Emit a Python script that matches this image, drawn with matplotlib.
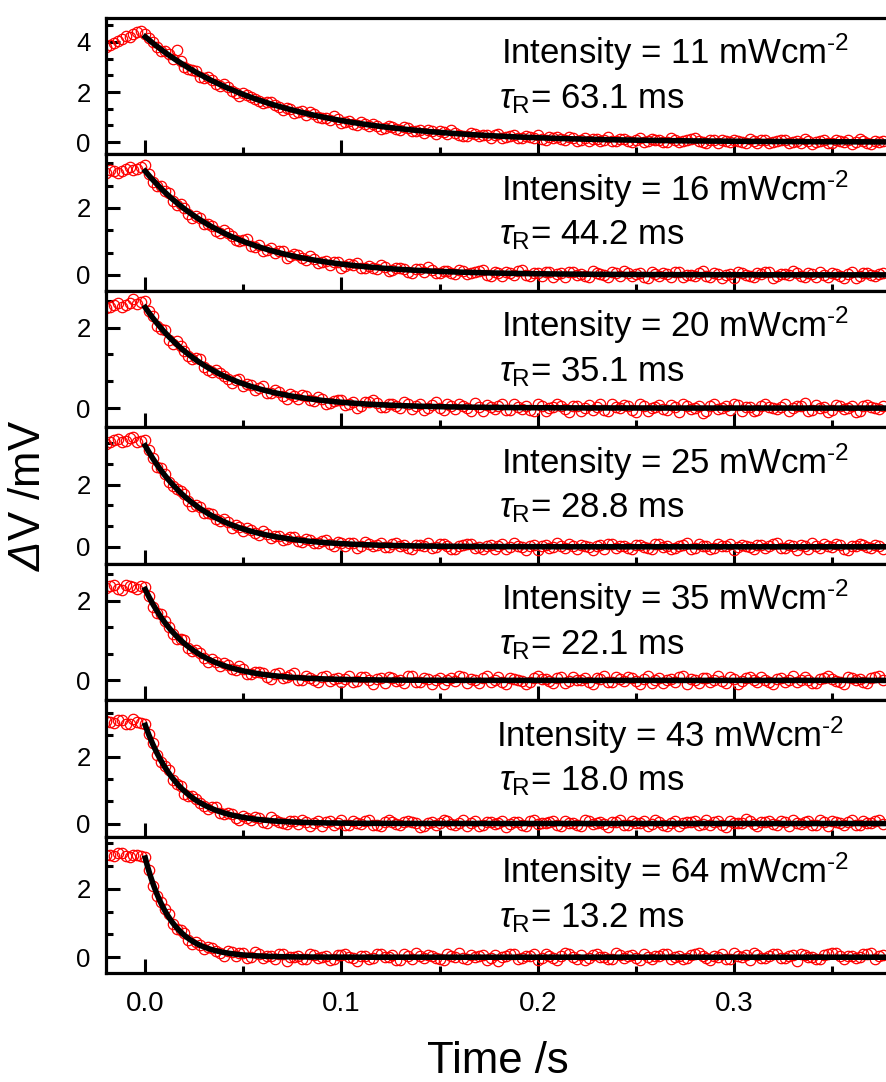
import numpy as np
import matplotlib
matplotlib.use('Agg')
import matplotlib.pyplot as plt
from matplotlib.ticker import MultipleLocator, AutoMinorLocator

plt.rcParams['font.family'] = ['Liberation Sans', 'DejaVu Sans']
plt.rcParams['mathtext.fontset'] = 'custom'
plt.rcParams['mathtext.rm'] = 'Liberation Sans'
plt.rcParams['mathtext.it'] = 'Liberation Sans:italic'
plt.rcParams['mathtext.sf'] = 'Liberation Sans:italic'   # used for the italic Delta
plt.rcParams['mathtext.bf'] = 'Liberation Sans:bold'

''' DATA '''
# sampling grids of the photovoltage transients (s): points at -20, -16, ... ms
# and the interleaved points at -18, -14, ... ms
time_a = np.linspace(-0.02, 0.376, 100)
time_b = np.linspace(-0.018, 0.374, 99)

intensity = [11, 16, 20, 25, 35, 43, 64]             # mW cm-2
tau_ms = [63.1, 44.2, 35.1, 28.8, 22.1, 18.0, 13.2]  # fitted recombination time
fit_amp = [4.2, 3.1, 2.5, 3.25, 2.28, 2.95, 2.9]     # fitted amplitude at t = 0 (mV)

dv_11 = [3.78, 3.95, 4.12, 4.20, 4.38, 4.30,
         3.99, 3.62, 3.50, 3.66, 3.00, 2.89, 2.60, 2.60, 2.33, 2.32,
         2.06, 1.84, 1.90, 1.74, 1.55, 1.62, 1.41, 1.38, 1.17, 1.23,
         1.19, 0.99, 0.97, 1.03, 0.78, 0.84, 0.70, 0.73, 0.74, 0.52,
         0.63, 0.52, 0.61, 0.43, 0.47, 0.49, 0.31, 0.41, 0.47, 0.29,
         0.24, 0.34, 0.30, 0.16, 0.32, 0.21, 0.27, 0.15, 0.22, 0.28,
         0.10, 0.17, 0.11, 0.22, 0.04, 0.17, 0.13, 0.05, 0.21, 0.06,
         0.13, 0.00, 0.15, 0.06, 0.10, 0.00, 0.15, 0.02, 0.07, 0.17,
         0.00, 0.10, -0.04, 0.05, 0.08, 0.00, 0.13, -0.04, 0.08, 0.01,
         0.10, -0.04, 0.05, 0.11, -0.07, 0.04, -0.02, 0.08, 0.02, -0.06,
         0.13, -0.04, 0.04, 0.05]
dv_11_b = [3.86, 4.05, 4.25, 4.30, 4.42,
           4.15, 3.78, 3.63, 3.31, 3.22, 2.90, 2.84, 2.55, 2.47, 2.24,
           2.20, 1.95, 1.96, 1.80, 1.63, 1.60, 1.50, 1.30, 1.34, 1.19,
           1.10, 1.13, 0.96, 0.90, 0.93, 0.80, 0.74, 0.80, 0.64, 0.66,
           0.58, 0.60, 0.47, 0.55, 0.45, 0.38, 0.43, 0.44, 0.33, 0.36,
           0.26, 0.35, 0.23, 0.29, 0.27, 0.18, 0.25, 0.15, 0.24, 0.16,
           0.12, 0.19, 0.20, 0.08, 0.15, 0.10, 0.04, 0.14, 0.09, 0.03,
           0.12, 0.05, 0.10, 0.02, 0.11, 0.08, -0.01, 0.09, 0.04, 0.12,
           0.03, -0.03, 0.07, 0.10, 0.01, 0.06, -0.02, 0.05, 0.09, -0.03,
           0.04, 0.07, 0.00, -0.05, 0.06, 0.02, 0.09, -0.03, 0.03, 0.10,
           -0.01, 0.05, -0.06, 0.02]

dv_16 = [3.06, 3.12, 3.10, 3.22, 3.18, 3.28,
         2.79, 2.66, 2.46, 2.10, 2.00, 1.71, 1.70, 1.51, 1.30, 1.33,
         1.17, 1.00, 1.07, 0.84, 0.72, 0.79, 0.71, 0.51, 0.63, 0.50,
         0.55, 0.36, 0.41, 0.40, 0.21, 0.33, 0.35, 0.21, 0.21, 0.31,
         0.12, 0.21, 0.17, 0.05, 0.19, 0.24, 0.06, 0.12, 0.06, 0.16,
         0.02, 0.10, 0.15, -0.02, 0.06, 0.10, 0.00, 0.15, -0.03, 0.05,
         0.09, -0.07, 0.06, 0.09, 0.00, -0.03, 0.11, 0.03, -0.07, 0.05,
         0.11, -0.02, 0.07, -0.08, 0.03, 0.06, -0.06, 0.09, 0.00, -0.04,
         0.12, -0.06, 0.03, 0.01, -0.08, 0.07, -0.02, 0.05, 0.09, -0.10,
         0.04, -0.01, 0.06, -0.07, 0.02, 0.10, -0.05, 0.03, -0.09, 0.08,
         -0.03, 0.06, -0.02, 0.05]
dv_16_b = [3.15, 3.05, 3.18, 3.14, 3.24,
           3.02, 2.66, 2.52, 2.20, 2.12, 1.83, 1.76, 1.53, 1.47, 1.25,
           1.24, 1.05, 1.04, 0.87, 0.90, 0.74, 0.65, 0.70, 0.55, 0.60,
           0.44, 0.47, 0.38, 0.31, 0.38, 0.27, 0.31, 0.20, 0.28, 0.17,
           0.23, 0.14, 0.20, 0.10, 0.18, 0.09, 0.15, 0.05, 0.13, 0.03,
           0.11, 0.05, 0.13, 0.01, 0.08, -0.02, 0.07, 0.12, 0.00, 0.06,
           -0.04, 0.08, 0.02, -0.05, 0.10, 0.04, -0.06, 0.07, -0.01, 0.09,
           -0.04, 0.06, 0.02, -0.07, 0.08, -0.02, 0.04, 0.10, -0.05, 0.01,
           0.07, -0.03, 0.05, -0.08, 0.03, 0.09, -0.01, -0.06, 0.04, 0.08,
           -0.03, 0.02, 0.11, -0.04, 0.05, -0.07, 0.01, 0.06, -0.02, 0.03,
           -0.09, 0.07, 0.00, 0.04]

dv_20 = [2.48, 2.56, 2.50, 2.62, 2.58, 2.66,
         2.29, 1.96, 1.69, 1.67, 1.43, 1.21, 1.23, 0.94, 0.94, 0.79,
         0.63, 0.73, 0.60, 0.45, 0.56, 0.38, 0.41, 0.22, 0.30, 0.33,
         0.19, 0.28, 0.09, 0.18, 0.21, 0.10, 0.01, 0.15, 0.19, 0.02,
         0.10, 0.06, 0.15, -0.02, 0.09, -0.01, 0.16, -0.05, 0.05, 0.09,
         -0.01, 0.12, -0.07, 0.02, 0.06, -0.05, 0.09, -0.02, -0.04, 0.11,
         -0.07, 0.03, 0.06, -0.10, 0.04, 0.01, -0.05, 0.09, -0.08, 0.02,
         0.07, -0.04, 0.10, -0.06, 0.03, -0.02, 0.08, -0.09, 0.05, 0.01,
         -0.11, 0.06, -0.03, 0.04, 0.09, -0.07, 0.02, -0.05, 0.10, -0.01,
         0.03, -0.08, 0.06, 0.12, -0.04, 0.01, -0.09, 0.07, -0.02, 0.05,
         -0.06, 0.08, -0.01, 0.04]
dv_20_b = [2.52, 2.60, 2.55, 2.70, 2.63,
           2.42, 2.05, 1.93, 1.60, 1.55, 1.30, 1.25, 1.02, 0.90, 0.88,
           0.72, 0.70, 0.55, 0.58, 0.50, 0.37, 0.44, 0.31, 0.35, 0.22,
           0.29, 0.17, 0.23, 0.13, 0.20, 0.08, 0.16, 0.05, 0.14, 0.12,
           0.02, 0.11, 0.00, 0.09, 0.04, -0.04, 0.08, 0.01, 0.10, -0.03,
           0.05, -0.06, 0.03, 0.08, -0.02, 0.11, -0.05, 0.02, 0.06, -0.08,
           0.04, 0.00, 0.09, -0.03, 0.05, -0.07, 0.08, 0.02, -0.04, 0.10,
           -0.01, 0.04, -0.09, 0.06, 0.01, 0.07, -0.05, 0.03, 0.11, -0.02,
           0.05, -0.06, 0.09, 0.00, -0.04, 0.07, 0.02, -0.08, 0.06, 0.03,
           -0.03, 0.10, -0.01, 0.04, -0.07, 0.08, 0.02, -0.05, 0.06, 0.01,
           -0.09, 0.05, 0.03, -0.02]

dv_25 = [3.30, 3.42, 3.38, 3.50, 3.36, 3.44,
         2.86, 2.55, 2.08, 1.85, 1.69, 1.31, 1.27, 1.08, 0.88, 0.89,
         0.62, 0.63, 0.59, 0.43, 0.52, 0.28, 0.34, 0.26, 0.32, 0.14,
         0.23, 0.12, 0.23, 0.04, 0.11, 0.13, -0.03, 0.14, 0.04, 0.11,
         -0.01, 0.12, 0.05, -0.06, 0.06, 0.12, -0.02, 0.08, -0.06, 0.02,
         0.09, -0.03, -0.08, 0.05, 0.02, -0.06, 0.11, -0.01, 0.04, -0.10,
         0.07, -0.02, 0.03, 0.08, -0.06, 0.01, -0.09, 0.05, 0.10, -0.04,
         0.02, -0.07, 0.06, -0.03, 0.09, -0.01, -0.08, 0.04, 0.12, -0.05,
         0.03, -0.06, 0.08, 0.01, -0.10, 0.05, -0.02, 0.07, -0.04, 0.09,
         -0.03, 0.06, -0.09, 0.02, 0.11, -0.05, 0.01, 0.08, -0.07, 0.04,
         0.10, -0.02, 0.05, -0.06]
dv_25_b = [3.36, 3.46, 3.40, 3.52, 3.40,
           3.10, 2.58, 2.35, 1.94, 1.79, 1.46, 1.36, 1.10, 1.04, 0.82,
           0.79, 0.69, 0.51, 0.53, 0.38, 0.42, 0.36, 0.22, 0.30, 0.18,
           0.24, 0.11, 0.19, 0.08, 0.16, 0.03, 0.12, 0.01, 0.10, 0.07,
           -0.02, 0.08, 0.03, -0.05, 0.06, 0.01, -0.04, 0.09, 0.02, -0.07,
           0.05, 0.10, -0.02, 0.03, -0.06, 0.08, 0.00, 0.04, -0.09, 0.06,
           0.02, -0.03, 0.11, -0.05, 0.01, 0.07, -0.02, 0.04, -0.08, 0.09,
           0.03, -0.04, 0.06, 0.00, -0.07, 0.10, 0.02, -0.03, 0.05, -0.06,
           0.08, 0.01, -0.05, 0.04, 0.09, -0.02, 0.03, -0.08, 0.06, 0.01,
           0.11, -0.04, 0.02, 0.07, -0.06, 0.03, 0.08, -0.01, 0.05, -0.09,
           0.02, 0.06, -0.03, 0.04]

dv_35 = [2.32, 2.38, 2.27, 2.36, 2.30, 2.34,
         1.85, 1.67, 1.35, 1.04, 1.02, 0.74, 0.69, 0.45, 0.46, 0.43,
         0.29, 0.35, 0.16, 0.21, 0.19, 0.03, 0.18, 0.08, 0.18, 0.02,
         0.07, -0.04, 0.10, 0.04, -0.03, 0.11, -0.01, 0.08, -0.10, 0.05,
         0.08, -0.02, -0.06, 0.10, -0.04, 0.03, 0.01, -0.09, 0.05, 0.12,
         -0.07, 0.02, 0.06, -0.03, 0.09, -0.08, 0.04, -0.01, -0.05, 0.10,
         0.03, -0.06, 0.08, -0.02, 0.01, 0.07, -0.10, 0.04, -0.04, 0.09,
         -0.01, 0.05, -0.08, 0.11, 0.02, -0.06, 0.03, 0.08, -0.09, 0.01,
         0.06, -0.03, 0.10, -0.07, 0.04, -0.01, 0.09, -0.05, 0.02, -0.10,
         0.07, 0.01, -0.04, 0.08, -0.06, 0.03, 0.12, -0.02, -0.08, 0.05,
         0.04, -0.07, 0.09, 0.02]
dv_35_b = [2.36, 2.30, 2.40, 2.33, 2.37,
           2.12, 1.70, 1.50, 1.16, 1.05, 0.80, 0.75, 0.55, 0.53, 0.37,
           0.38, 0.25, 0.29, 0.15, 0.22, 0.09, 0.16, 0.05, 0.13, 0.02,
           0.10, 0.01, 0.08, -0.02, 0.06, 0.03, -0.05, 0.09, 0.00, 0.04,
           -0.07, 0.06, 0.02, 0.10, -0.03, 0.05, -0.08, 0.07, 0.01, -0.02,
           0.08, 0.03, -0.06, 0.10, 0.00, -0.04, 0.06, 0.02, -0.09, 0.07,
           0.04, -0.01, 0.05, -0.06, 0.09, 0.02, -0.03, 0.06, 0.11, -0.05,
           0.03, 0.08, -0.02, 0.04, -0.07, 0.06, 0.01, -0.04, 0.10, 0.03,
           -0.06, 0.07, 0.02, -0.01, 0.08, -0.08, 0.05, 0.00, 0.09, -0.03,
           0.04, -0.05, 0.11, 0.02, 0.01, -0.07, 0.07, 0.04, -0.03, 0.08,
           0.00, -0.05, 0.06, 0.10]

dv_43 = [3.08, 3.02, 3.12, 2.98, 3.06, 3.00,
         2.43, 1.85, 1.61, 1.19, 0.89, 0.83, 0.63, 0.44, 0.50, 0.29,
         0.30, 0.12, 0.18, 0.19, 0.06, 0.19, 0.06, -0.02, 0.07, 0.12,
         -0.07, 0.07, 0.04, -0.03, 0.10, -0.05, 0.01, 0.07, -0.03, -0.08,
         0.10, -0.02, 0.04, 0.06, -0.09, 0.03, -0.05, 0.12, -0.01, 0.02,
         -0.07, 0.08, -0.04, 0.05, 0.01, -0.10, 0.06, -0.03, 0.09, -0.02,
         0.03, 0.07, -0.08, 0.02, -0.05, 0.10, -0.01, 0.04, -0.09, 0.06,
         -0.03, 0.08, 0.01, -0.06, 0.11, -0.04, 0.02, -0.07, 0.05, 0.09,
         -0.02, -0.05, 0.07, -0.10, 0.03, 0.01, 0.08, -0.06, 0.04, -0.01,
         0.09, -0.08, 0.02, 0.06, -0.03, 0.10, -0.07, 0.05, -0.04, 0.12,
         -0.05, 0.03, 0.08, -0.02]
dv_43_b = [3.04, 3.10, 3.00, 3.14, 3.02,
           2.70, 2.06, 1.74, 1.30, 1.13, 0.82, 0.74, 0.52, 0.49, 0.31,
           0.33, 0.18, 0.24, 0.10, 0.17, 0.03, 0.12, 0.01, 0.09, -0.02,
           0.06, 0.02, -0.06, 0.08, 0.03, -0.04, 0.07, 0.00, 0.10, -0.05,
           0.04, 0.06, -0.03, 0.09, 0.01, -0.08, 0.05, 0.02, 0.07, -0.04,
           0.11, 0.03, -0.06, 0.06, 0.00, 0.08, -0.02, 0.04, -0.07, 0.10,
           0.02, 0.05, -0.03, 0.07, 0.01, -0.06, 0.09, 0.03, -0.02, 0.06,
           0.12, -0.04, 0.03, 0.08, -0.01, 0.05, -0.07, 0.09, 0.02, 0.06,
           -0.03, 0.10, 0.04, -0.05, 0.07, 0.01, 0.13, -0.02, 0.05, 0.08,
           -0.04, 0.06, 0.11, 0.00, 0.07, -0.03, 0.04, 0.09, 0.01, 0.06,
           -0.05, 0.08, 0.03, 0.10]

dv_64 = [3.00, 2.96, 3.04, 2.94, 2.98, 2.92,
         2.08, 1.62, 1.27, 0.83, 0.71, 0.39, 0.37, 0.31, 0.18, 0.05,
         0.16, 0.11, -0.01, 0.15, -0.01, 0.03, 0.08, -0.10, 0.02, -0.05,
         0.09, -0.02, 0.04, -0.06, 0.07, 0.01, -0.11, 0.05, -0.03, 0.08,
         0.02, -0.08, 0.10, -0.04, 0.03, 0.06, -0.01, -0.09, 0.05, 0.12,
         -0.06, 0.01, 0.07, -0.03, -0.10, 0.04, 0.08, -0.02, 0.05, -0.07,
         0.10, -0.01, 0.03, 0.09, -0.05, -0.08, 0.06, 0.02, -0.04, 0.11,
         -0.03, 0.07, -0.09, 0.01, 0.04, 0.08, -0.06, 0.03, -0.02, 0.10,
         0.05, -0.07, 0.02, -0.04, 0.12, 0.01, -0.08, 0.06, -0.03, 0.09,
         -0.01, 0.04, -0.10, 0.07, 0.02, -0.05, 0.08, 0.11, -0.06, 0.03,
         0.01, 0.09, -0.04, 0.06]
dv_64_b = [2.98, 3.06, 2.96, 3.00, 2.95,
           2.55, 1.80, 1.42, 0.96, 0.79, 0.50, 0.45, 0.25, 0.27, 0.11,
           0.17, 0.04, 0.12, 0.00, 0.08, 0.03, -0.06, 0.09, 0.01, 0.05,
           -0.04, 0.07, 0.02, -0.08, 0.06, 0.10, -0.02, 0.04, -0.05, 0.08,
           0.00, 0.06, -0.07, 0.03, 0.11, -0.01, 0.05, -0.06, 0.09, 0.02,
           -0.03, 0.07, 0.04, -0.09, 0.06, 0.01, 0.10, -0.04, 0.03, 0.08,
           -0.02, 0.05, -0.07, 0.12, 0.02, 0.06, -0.03, 0.09, 0.00, -0.05,
           0.07, 0.04, -0.01, 0.10, -0.06, 0.03, 0.08, 0.01, -0.04, 0.06,
           0.11, -0.02, 0.05, 0.09, -0.05, 0.03, 0.07, 0.12, -0.01, 0.04,
           0.08, -0.03, 0.06, 0.10, 0.02, -0.04, 0.07, 0.13, 0.03, 0.05,
           -0.02, 0.09, 0.11, 0.04]

transients = [(dv_11, dv_11_b), (dv_16, dv_16_b), (dv_20, dv_20_b), (dv_25, dv_25_b),
              (dv_35, dv_35_b), (dv_43, dv_43_b), (dv_64, dv_64_b)]

# axis ranges of each panel (mV)
y_limits = [(-0.49, 4.95), (-0.48, 3.6), (-0.48, 2.91), (-0.55, 3.84),
            (-0.5, 2.92), (-0.4, 3.7), (-0.47, 3.52)]

''' PLOT '''
fig, axes = plt.subplots(7, 1, sharex=True, figsize=(8.86, 10.82), dpi=100,
                         gridspec_kw=dict(hspace=0))
fig.subplots_adjust(left=106/886, right=1.0, top=1-18/1082, bottom=1-973.3/1082)

t_fit = np.linspace(0, 0.38, 400)
t_all = np.concatenate([time_a, time_b])

for i, ax in enumerate(axes):
    dv_all = np.concatenate([transients[i][0], transients[i][1]])
    ax.plot(t_all, dv_all, 'o', ms=7.5, mfc='none', mec='red', mew=0.9)
    tau = tau_ms[i] / 1000
    ax.plot(t_fit, fit_amp[i]*np.exp(-t_fit/tau), color='black', lw=4.0)

    ax.set_xlim(-0.02, 0.3775)
    ax.set_ylim(*y_limits[i])
    ax.xaxis.set_major_locator(MultipleLocator(0.1))
    ax.xaxis.set_minor_locator(MultipleLocator(0.05))
    ax.yaxis.set_major_locator(MultipleLocator(2))
    ax.yaxis.set_minor_locator(AutoMinorLocator(3))
    ax.tick_params(which='both', direction='in', top=False, right=False, width=2.2)
    ax.tick_params(which='major', length=10)
    ax.tick_params(which='minor', length=5)
    ax.tick_params(axis='y', labelsize=18.5, pad=11)
    ax.tick_params(axis='x', labelsize=20, pad=13)
    for side in ['left', 'top', 'bottom']:
        ax.spines[side].set_linewidth(2.3)
    ax.spines['right'].set_visible(False)

    x_txt = 0.500 if intensity[i] == 43 else 0.506
    ax.text(x_txt, 0.663, 'Intensity = %d mWcm$^{\\text{-2}}$' % intensity[i],
            transform=ax.transAxes, fontsize=25, va='baseline', ha='left')
    ax.text(0.504, 0.34, r'$\tau_{\mathrm{R}}$= %.1f ms' % tau_ms[i],
            transform=ax.transAxes, fontsize=25, va='baseline', ha='left')

fig.text(29/886, 1-495.5/1082, r'$\mathsf{\Delta}$V /mV', rotation=90,
         fontsize=31.5, ha='center', va='center')
fig.text(498/886, 1-1073/1082, 'Time /s', fontsize=31.5, ha='center', va='baseline')

plt.savefig('out.png', dpi=100)
